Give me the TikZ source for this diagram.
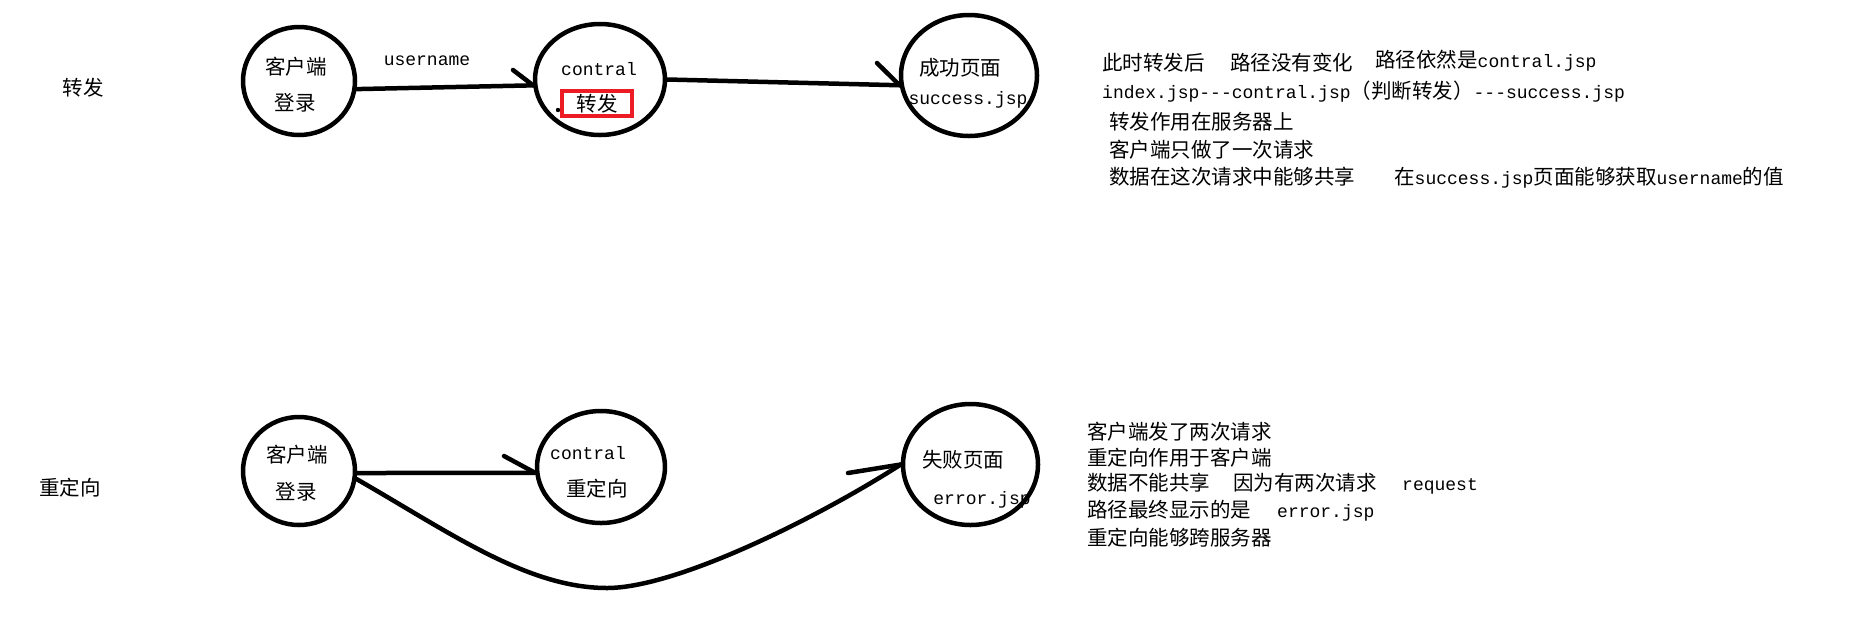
\documentclass[tikz,border=0pt]{standalone}
\usepackage{fontspec}
\usetikzlibrary{shapes.geometric}
\newfontfamily\zhf{Noto Sans CJK SC}
\newfontfamily\enf{Liberation Mono}
\newcommand\myen[1]{{\enf\fontsize{18}{22}\selectfont #1}}
\definecolor{paintred}{RGB}{237,28,36}
\tikzset{
  ell/.style={ellipse, draw, line width=4.5pt, inner sep=0pt},
  txt/.style={inner sep=0pt, text height=16pt, text depth=1pt, font=\zhf\fontsize{20.5}{24}\selectfont},
  lt/.style={txt, anchor=west},
  conn/.style={line width=4.5pt, line cap=round, line join=round},
  redbox/.style={draw=paintred, line width=4pt, inner sep=0pt, minimum width=70pt, minimum height=25pt},
}
\begin{document}
\begin{tikzpicture}[x=1pt,y=-1pt]
\useasboundingbox (0,0) rectangle (1852,625);
% ---- labels left
\node[txt] (lzf) at (83,88) {转发};
\node[txt] (lcd) at (70,488) {重定向};
% ---- texts inside circles (top)
\node[txt] (k1) at (296,67) {客户端};
\node[txt] (d1) at (295,103) {登录};
\node[txt] (un) at (427,58) {\myen{username}};
\node[txt] (ct1) at (599,68) {\myen{contral}};
\node[txt,redbox] (rb) at (597,103.5) {转发};
\node[txt] (cg) at (960,68) {成功页面};
\node[txt] (sj) at (968,97) {\myen{success.jsp}};
% ---- texts inside circles (bottom)
\node[txt] (k2) at (297,455) {客户端};
\node[txt] (d2) at (296,492) {登录};
\node[txt] (ct2) at (588,452) {\myen{contral}};
\node[txt] (cd2) at (597,489) {重定向};
\node[txt] (sb) at (963,460) {失败页面};
\node[txt] (ej) at (982,497) {\myen{error.jsp}};
% ---- circles
\node[ell, minimum width=112pt, minimum height=108pt] (c1) at (299,81) {};
\node[ell, minimum width=130pt, minimum height=111pt] (c2) at (600,79.5) {};
\node[ell, minimum width=136pt, minimum height=121pt] (c3) at (969,75.5) {};
\node[ell, minimum width=112pt, minimum height=108pt] (c4) at (299,471) {};
\node[ell, minimum width=128pt, minimum height=112pt] (c5) at (601,467) {};
\node[ell, minimum width=135pt, minimum height=121pt] (c6) at (970.5,464.5) {};
% ---- small dot
\fill (558,110) circle (2.2pt);
% ---- connectors
\coordinate (b1) at (513,70);
\coordinate (b2) at (877,63);
\coordinate (b3) at (504,456);
\coordinate (b4) at (848,473);
\coordinate (m) at (607,588);
\draw[conn] (c1.-8) -- (c2.185);
\draw[conn] (b1) -- (c2.185);
\draw[conn] (c2.east) -- (c3.188);
\draw[conn] (b2) -- (c3.188);
\draw[conn] (c4.-2) -- (c5.185);
\draw[conn] (b3) -- (c5.185);
\draw[conn] (c4.-8) .. controls (449,532) and (527,588) .. (m)
            .. controls (677,588) and (819,517) .. (c6.west);
\draw[conn] (b4) -- (c6.west);
% ---- right text, top
\node[lt] (r1a) at (1102,63) {此时转发后};
\node[lt] (r1b) at (1230,63) {路径没有变化};
\node[lt] (r1c) at (1375,60) {路径依然是\myen{contral.jsp}};
\node[lt] (r2) at (1102,91) {\myen{index.jsp-{}-{}-contral.jsp}（判断转发）\myen{-{}-{}-success.jsp}};
\node[lt] (r3) at (1109,122) {转发作用在服务器上};
\node[lt] (r4) at (1109,150) {客户端只做了一次请求};
\node[lt] (r5a) at (1109,177) {数据在这次请求中能够共享};
\node[lt] (r5b) at (1394,177) {在\myen{success.jsp}页面能够获取\myen{username}的值};
% ---- right text, bottom
\node[lt] (s1) at (1087,432) {客户端发了两次请求};
\node[lt] (s2) at (1087,458) {重定向作用于客户端};
\node[lt] (s3a) at (1087,483) {数据不能共享};
\node[lt] (s3b) at (1233,483) {因为有两次请求};
\node[lt] (s3c) at (1402,483) {\myen{request}};
\node[lt] (s4a) at (1087,510) {路径最终显示的是};
\node[lt] (s4b) at (1277,510) {\myen{error.jsp}};
\node[lt] (s5) at (1087,538) {重定向能够跨服务器};
\end{tikzpicture}
\end{document}
